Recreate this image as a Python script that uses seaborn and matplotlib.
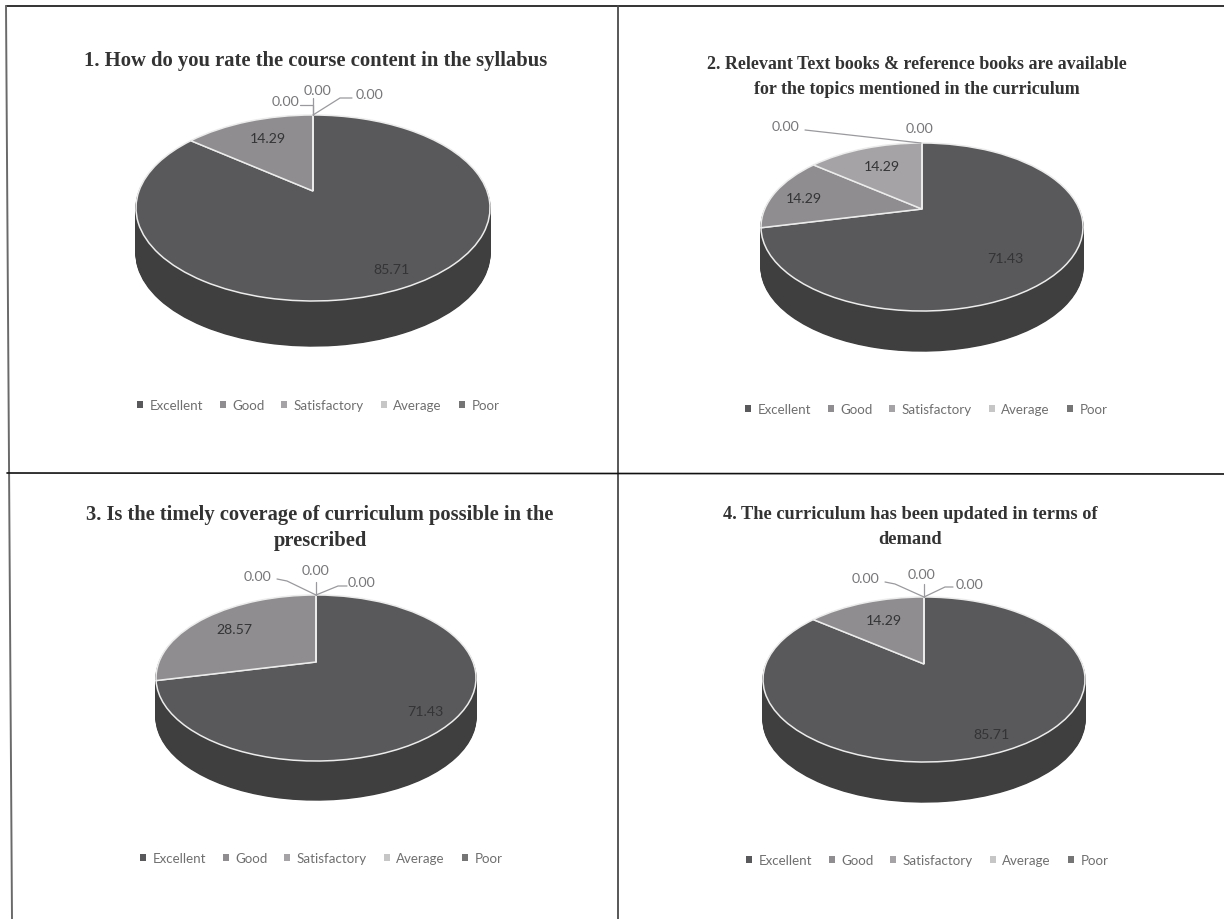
import numpy as np
import matplotlib
matplotlib.use('Agg')
import matplotlib.pyplot as plt
import matplotlib.transforms as mtransforms
from matplotlib.lines import Line2D
import seaborn as sns

# survey answers
categories = ['Excellent', 'Good', 'Satisfactory', 'Average', 'Poor']
q1_values = [85.71, 14.29, 0.00, 0.00, 0.00]
q2_values = [71.43, 14.29, 14.29, 0.00, 0.00]
q3_values = [71.43, 28.57, 0.00, 0.00, 0.00]
q4_values = [85.71, 14.29, 0.00, 0.00, 0.00]
q1_title = '1. How do you rate the course content in the syllabus'
q2_title = '2. Relevant Text books & reference books are available\nfor the topics mentioned in the curriculum'
q3_title = '3. Is the timely coverage of curriculum possible in the\nprescribed'
q4_title = '4. The curriculum has been updated in terms of\ndemand'

sns.set_theme(style='white')
plt.rcParams['font.family'] = ['Lato', 'DejaVu Sans']
colors = sns.color_palette(['#59595b', '#8f8d8f', '#a5a3a5', '#c6c6c6', '#757575'])
SIDE = '#3f3f40'
LINE = '#9a9a9e'
TXT = '#6f6f6f'


class Tilt(mtransforms.Transform):
    # unit circle -> tilted disc with a bit of perspective, output in picture pixels
    input_dims = 2
    output_dims = 2

    def __init__(self, cx, cy, rx, rtop, rbot):
        super().__init__()
        self.cx, self.cy = cx, cy
        self.c = (rbot - rtop) / (rbot + rtop)
        self.a = rx * np.sqrt(1 - self.c ** 2)
        self.b = rtop * (1 + self.c)

    def transform_non_affine(self, xy):
        xy = np.asarray(xy)
        w = 1 + self.c * xy[:, 1]
        return np.column_stack([self.cx + self.a * xy[:, 0] / w,
                                self.cy - self.b * xy[:, 1] / w])


# layout in picture pixels
panels = [
    dict(values=q1_values, title=q1_title, title_xy=(316, 61), title_size=14.9, spacing=1.2,
         disc=(313, 192, 177, 76, 110), depth=45, legend_xy=(318, 406),
         labels=[(392, 270), (268, 139), (286, 102), (318, 91), (369, 95)],
         leaders=[[(300, 106), (313, 106), (313, 116)], [(313, 99), (313, 116)],
                  [(352, 99), (340, 99), (313, 116)]]),
    dict(values=q2_values, title=q2_title, title_xy=(917, 77), title_size=13.0, spacing=1.58,
         disc=(922, 210, 161, 66, 102), depth=40, legend_xy=(926, 410),
         labels=[(1005, 259), (804, 199), (882, 167), (786, 127), (920, 129)],
         leaders=[[(805, 131), (921, 144)]]),
    dict(values=q3_values, title=q3_title, title_xy=(320, 528), title_size=14.8, spacing=1.42,
         disc=(316, 663, 160, 67, 99), depth=39, legend_xy=(321, 859),
         labels=[(425, 712), (234, 630), (258, 577), (316, 571), (362, 583)],
         leaders=[[(277, 580), (287, 582), (316, 596)], [(316, 583), (316, 596)],
                  [(347, 587), (338, 587), (316, 596)]]),
    dict(values=q4_values, title=q4_title, title_xy=(910, 527), title_size=13.2, spacing=1.58,
         disc=(924, 665, 161, 67, 98), depth=40, legend_xy=(927, 861),
         labels=[(992, 735), (884, 621), (866, 579), (922, 575), (969, 585)],
         leaders=[[(885, 583), (895, 585), (924, 598)], [(924, 585), (924, 598)],
                  [(953, 588), (945, 588), (924, 598)]]),
]

fig, axes = plt.subplots(2, 2, figsize=(12.24, 9.2), dpi=100,
                         gridspec_kw=dict(width_ratios=[618, 606], height_ratios=[474, 446],
                                          left=0, right=1, bottom=0, top=1, wspace=0, hspace=0))
limits = [(0, 618, 474, 0), (618, 1224, 474, 0), (0, 618, 920, 474), (618, 1224, 920, 474)]

for ax, p, lim in zip(axes.flat, panels, limits):
    tilt = Tilt(*p['disc'])
    # side of the disc: same pie stacked downwards, top surface last
    for d in range(p['depth'], 0, -1):
        side, _ = ax.pie(p['values'], startangle=90, counterclock=False, colors=[SIDE] * 5,
                         wedgeprops=dict(edgecolor=SIDE, linewidth=1))
        for w in side:
            w.set_transform(tilt + mtransforms.Affine2D().translate(0, d) + ax.transData)
    top, _ = ax.pie(p['values'], startangle=90, counterclock=False, colors=colors,
                    wedgeprops=dict(edgecolor='#ececec', linewidth=1.1))

    leg = ax.legend(top, categories, ncol=5, frameon=False, loc='center',
                    bbox_to_anchor=p['legend_xy'], bbox_transform=ax.transData,
                    fontsize=9.6, labelcolor=TXT, handlelength=0.45, handleheight=0.45,
                    handletextpad=0.5, columnspacing=1.25)
    for h in leg.legend_handles:
        h.set_edgecolor('none')
    for w in top:
        w.set_transform(tilt + ax.transData)

    ax.set_aspect('auto')
    ax.set_xlim(lim[0], lim[1])
    ax.set_ylim(lim[2], lim[3])

    for val, xy in zip(p['values'], p['labels']):
        ax.text(xy[0], xy[1], f'{val:.2f}', ha='center', va='center', fontsize=10.2,
                color='#343436' if val > 0 else '#77777a', zorder=5)
    for pts in p['leaders']:
        xs, ys = zip(*pts)
        ax.plot(xs, ys, color=LINE, lw=0.9, zorder=4)
    ax.text(*p['title_xy'], p['title'], ha='center', va='center', ma='center',
            fontsize=p['title_size'], family='Liberation Serif', fontweight='bold',
            color='#333333', linespacing=p['spacing'], zorder=5)

# table rules of the scanned page
def rule(x0, y0, x1, y1, color='#111111', lw=1.2):
    fig.add_artist(Line2D([x0 / 1224, x1 / 1224], [1 - y0 / 920, 1 - y1 / 920], color=color, lw=lw))

rule(6, 7, 1224, 7)
rule(6, 7, 12, 920, color='#6a6a6a', lw=1.4)
rule(618, 7, 618, 920, color='#4a4a4a', lw=1.3)
rule(7, 474, 1224, 475)

fig.savefig('out.png', dpi=100)
